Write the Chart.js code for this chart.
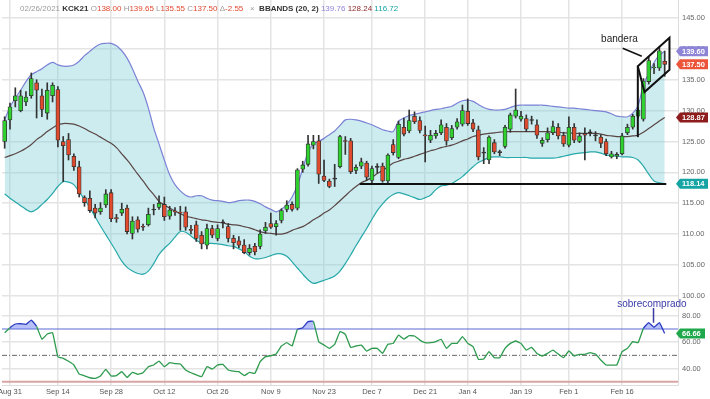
<!DOCTYPE html>
<html>
<head>
<meta charset="utf-8">
<script src="https://cdn.jsdelivr.net/npm/chart.js@4.4.1/dist/chart.umd.min.js"></script>
<style>
  html, body { margin: 0; padding: 0; background: #fff; }
  #wrap { position: relative; width: 710px; height: 399px; overflow: hidden; }
  #main { position: absolute; left: 0; top: 0; }
  #osc { position: absolute; left: 0; top: 297px; }
  #legend { position: absolute; left: 20px; top: 3px; font: 8px "Liberation Sans", Arial, sans-serif;
            line-height: 11px; white-space: nowrap; color: #9a9a9a; }
  #legend b { color: #333; }
  #legend .r { color: #e0482f; }
</style>
</head>
<body>
<div id="wrap">
  <canvas id="main" width="710" height="310"></canvas>
  <canvas id="osc" width="710" height="102"></canvas>
  <div id="legend">02/26/2021 <b>KCK21</b> O<span class="r">138.00</span> H<span class="r">139.65</span> L<span class="r">135.55</span> C<span class="r">137.50</span> Δ<span class="r">-2.55</span> &nbsp; × &nbsp;<b>BBANDS (20, 2)</b> <span style="color:#8d84d6">139.76</span> <span style="color:#8e2a2a">128.24</span> <span style="color:#15a3a3">116.72</span></div>
</div>
<script>
// trading days shown on the chart
const dates = [
  'Aug 28','Aug 31',
  'Sep 1','Sep 2','Sep 3','Sep 4','Sep 8','Sep 9','Sep 10','Sep 11','Sep 14','Sep 15','Sep 16','Sep 17','Sep 18',
  'Sep 21','Sep 22','Sep 23','Sep 24','Sep 25','Sep 28','Sep 29','Sep 30',
  'Oct 1','Oct 2','Oct 5','Oct 6','Oct 7','Oct 8','Oct 9','Oct 12','Oct 13','Oct 14','Oct 15','Oct 16',
  'Oct 19','Oct 20','Oct 21','Oct 22','Oct 23','Oct 26','Oct 27','Oct 28','Oct 29','Oct 30',
  'Nov 2','Nov 3','Nov 4','Nov 5','Nov 6','Nov 9','Nov 10','Nov 11','Nov 12','Nov 13',
  'Nov 16','Nov 17','Nov 18','Nov 19','Nov 20','Nov 23','Nov 24','Nov 25','Nov 27','Nov 30',
  'Dec 1','Dec 2','Dec 3','Dec 4','Dec 7','Dec 8','Dec 9','Dec 10','Dec 11','Dec 14','Dec 15','Dec 16','Dec 17','Dec 18',
  'Dec 21','Dec 22','Dec 23','Dec 24','Dec 28','Dec 29','Dec 30','Dec 31',
  'Jan 4','Jan 5','Jan 6','Jan 7','Jan 8','Jan 11','Jan 12','Jan 13','Jan 14','Jan 15',
  'Jan 19','Jan 20','Jan 21','Jan 22','Jan 25','Jan 26','Jan 27','Jan 28','Jan 29',
  'Feb 1','Feb 2','Feb 3','Feb 4','Feb 5','Feb 8','Feb 9','Feb 10','Feb 11','Feb 12',
  'Feb 16','Feb 17','Feb 18','Feb 19','Feb 22','Feb 23','Feb 24','Feb 25','Feb 26'
];
const tickDates = ['Aug 31','Sep 14','Sep 28','Oct 12','Oct 26','Nov 9','Nov 23','Dec 7','Dec 21','Jan 4','Jan 19','Feb 1','Feb 16'];

const open = [
  125.0,128.5,131.6,130.0,131.4,132.4,134.5,132.4,129.6,132.4,
  133.4,125.0,125.3,122.6,120.9,115.9,115.8,114.2,113.6,114.7,
  116.7,112.6,113.4,114.2,110.1,112.3,111.2,111.5,113.9,114.3,
  114.8,112.9,113.7,113.5,113.6,110.7,111.5,109.8,108.2,110.9,
  109.3,111.8,111.2,109.3,108.9,108.2,107.0,108.0,108.0,110.5,
  111.7,111.2,112.2,114.0,114.8,114.2,120.5,121.3,124.4,125.1,
  119.4,118.6,118.9,120.9,125.1,125.1,120.3,121.0,121.5,118.7,
  120.8,121.0,118.6,124.5,122.4,127.3,126.7,129.1,128.4,126.0,
  125.2,125.9,126.4,127.3,125.6,127.3,127.8,129.9,128.0,126.9,
  123.1,122.0,124.8,123.2,124.2,127.0,129.1,128.6,128.7,128.4,
  127.7,124.7,125.3,126.4,127.3,126.0,124.4,127.3,125.0,126.3,
  126.4,125.9,125.7,125.0,122.5,122.6,123.0,126.4,127.3,129.1,
  128.6,134.7,136.9,136.9,138.0
];
const high = [
  129.0,131.2,133.7,133.3,133.1,136.1,135.0,133.5,134.5,134.5,
  133.9,125.8,126.3,123.0,121.8,116.2,117.0,114.8,115.1,117.2,
  117.2,113.2,115.0,114.7,112.8,112.8,111.6,114.2,114.8,116.2,
  116.0,114.5,114.3,114.5,114.4,111.4,112.1,110.4,111.6,111.4,
  111.5,112.3,111.7,109.8,109.6,109.1,108.3,108.5,110.7,111.9,
  113.4,112.2,114.1,115.4,115.2,120.6,121.8,126.0,126.0,126.0,
  122.0,118.9,121.3,126.0,125.8,125.5,121.2,122.3,121.8,121.0,
  121.4,121.5,123.0,125.3,128.3,128.8,130.1,129.8,129.0,127.5,
  126.8,126.8,128.5,127.9,127.6,128.7,130.9,131.9,128.6,127.5,
  124.0,125.9,125.3,123.6,127.6,129.6,133.5,129.9,129.3,129.1,
  128.5,125.6,127.2,128.3,127.9,126.5,129.0,127.9,126.4,127.2,
  126.9,126.6,126.1,125.4,123.4,123.2,126.3,127.8,129.4,130.5,
  135.2,138.7,137.6,140.3,139.65
];
const low = [
  123.9,127.0,130.6,129.8,130.8,132.0,128.8,129.0,128.6,131.4,
  124.1,118.5,122.0,120.3,116.0,114.5,113.5,112.6,113.2,114.3,
  112.0,111.9,113.0,110.0,109.2,110.3,110.6,111.3,113.1,114.0,
  112.2,112.4,113.0,110.6,110.6,110.0,108.8,107.6,107.6,109.4,
  108.9,111.0,108.7,107.6,107.8,106.8,106.6,106.6,107.6,110.1,
  110.9,109.8,111.8,113.6,113.7,113.9,120.0,121.0,123.8,118.2,
  118.5,117.5,117.7,120.7,122.9,119.8,119.8,120.6,118.7,118.3,
  119.9,118.4,118.3,122.8,122.2,125.9,126.4,127.9,126.4,121.7,
  124.8,125.5,126.1,124.4,125.3,127.0,127.5,127.6,126.6,122.0,
  121.4,121.4,123.0,122.7,123.9,126.5,128.8,128.3,126.6,127.8,
  125.5,124.2,124.9,126.1,125.4,124.2,124.1,124.8,124.8,122.0,
  125.9,125.1,124.0,122.7,122.3,122.2,122.8,126.1,127.0,128.8,
  128.3,134.3,136.0,136.5,135.55
];
const close = [
  128.4,130.6,132.4,132.4,132.2,135.2,133.3,130.2,133.3,134.1,
  125.2,124.3,122.8,120.9,116.5,115.1,113.8,113.4,114.2,116.5,
  112.5,112.5,114.0,110.4,112.1,110.8,111.1,113.2,113.9,115.0,
  112.8,113.9,113.6,113.4,111.1,110.6,109.3,108.4,110.9,109.8,
  110.9,111.8,109.3,108.6,108.2,107.0,107.7,107.1,110.0,111.1,
  111.1,111.7,113.8,114.7,114.0,120.4,121.2,124.6,125.0,119.7,
  118.7,117.7,118.9,125.8,125.0,120.1,120.8,121.7,119.2,120.6,
  120.8,118.6,122.8,123.2,127.8,126.2,128.4,128.2,126.8,125.9,
  126.0,126.3,127.7,125.1,127.1,128.2,130.0,127.9,127.0,122.5,
  123.1,125.7,123.3,123.2,127.3,129.3,130.1,129.1,127.0,128.4,
  126.0,125.2,126.4,127.4,125.9,124.6,127.3,125.2,125.9,126.0,
  126.4,125.9,124.7,123.0,123.0,122.9,125.9,127.3,129.1,130.1,
  134.8,138.1,137.0,139.7,137.5
];

// Bollinger bands (20, 2)
const bbUpper = [
  128.5,130.6,132.0,133.3,134.7,135.8,136.3,136.8,137.4,137.8,
  137.4,137.2,137.2,137.4,138.0,138.9,139.6,140.3,140.8,140.9,
  140.9,140.5,139.7,138.5,136.8,134.8,133.0,130.4,127.2,124.6,
  122.0,119.6,118.0,117.0,116.3,116.0,116.2,116.2,115.8,115.5,
  115.4,115.3,115.1,115.2,115.4,115.5,115.5,115.3,114.9,114.4,
  114.0,113.6,114.0,114.8,116.0,117.9,120.6,123.2,124.6,125.0,
  125.5,126.1,126.7,127.6,128.5,128.6,128.5,128.3,128.0,127.7,
  127.3,126.9,126.7,126.6,128.3,128.8,129.2,129.4,129.6,129.8,
  130.0,130.2,130.3,130.5,130.7,131.2,131.6,131.7,131.5,131.0,
  130.5,130.2,130.1,130.1,130.2,130.5,130.8,130.9,130.9,130.9,
  130.9,130.9,130.8,130.7,130.6,130.5,130.4,130.4,130.3,130.2,
  130.1,130.0,129.9,129.8,129.5,129.1,129.0,129.0,129.6,130.8,
  134.2,136.0,137.8,139.0,139.6
];
const bbMiddle = [
  122.4,122.7,123.0,123.4,123.9,124.5,125.3,125.9,126.6,127.2,
  127.7,127.9,127.9,127.8,127.5,127.1,126.6,126.2,125.7,125.2,
  124.7,124.0,123.0,122.0,120.9,119.7,118.6,117.4,116.4,115.3,
  114.7,114.2,113.7,113.3,112.9,112.7,112.5,112.3,112.2,112.0,
  111.9,111.8,111.6,111.5,111.4,111.2,111.0,110.7,110.4,110.2,
  110.1,110.0,110.0,110.2,110.6,110.9,111.2,111.7,112.3,112.8,
  113.4,113.9,114.6,115.4,116.2,117.0,117.7,118.3,118.7,119.2,
  119.8,120.3,120.9,121.5,121.8,122.1,122.3,122.6,122.9,123.2,
  123.5,123.7,124.0,124.2,124.4,124.7,125.1,125.4,125.8,126.0,
  126.2,126.3,126.4,126.5,126.6,126.6,126.6,126.6,126.6,126.6,
  126.6,126.6,126.6,126.5,126.5,126.4,126.4,126.3,126.3,126.3,
  126.3,126.3,126.2,126.0,125.9,125.8,125.8,125.8,125.9,126.0,
  126.5,127.1,127.7,128.3,128.9
];
const bbLower = [
  116.5,115.8,115.2,114.6,114.0,113.6,114.0,114.8,115.6,116.6,
  117.7,118.5,118.4,118.0,116.8,115.6,114.3,112.8,111.3,109.9,
  108.5,107.1,105.6,104.6,104.0,103.6,103.5,104.0,105.2,106.7,
  107.7,108.5,109.5,110.4,110.3,109.7,109.0,108.6,108.5,108.5,
  108.4,108.3,108.1,108.0,107.6,107.2,106.4,106.0,106.0,106.2,
  106.5,106.8,106.8,106.4,105.5,104.5,103.5,102.6,102.0,102.2,
  102.5,102.8,103.2,104.0,105.2,106.6,108.1,109.5,110.9,112.4,
  113.8,114.9,115.8,116.4,116.7,116.5,116.2,115.9,115.6,115.9,
  116.3,117.2,117.8,117.9,118.2,118.7,119.3,120.1,120.9,121.6,
  122.0,122.4,122.5,122.5,122.4,122.4,122.4,122.4,122.4,122.3,
  122.3,122.3,122.3,122.3,122.4,122.6,122.8,123.0,123.1,123.2,
  123.3,123.3,123.1,122.8,122.7,122.6,122.5,122.5,122.4,122.0,
  121.0,119.7,118.6,118.3,118.1
];

// oscillator in the lower panel
const rsi = [
  67.2,71.0,73.8,74.0,73.5,76.8,72.0,62.2,66.2,67.2,
  49.0,47.7,45.5,42.7,35.8,34.5,33.0,32.5,34.3,39.4,
  34.3,34.6,37.6,33.3,37.1,35.6,36.8,41.4,42.7,45.7,
  41.4,44.4,43.8,43.4,38.9,36.8,35.2,33.8,41.4,39.6,
  42.7,43.2,38.9,38.0,37.6,34.6,37.1,36.3,45.2,49.0,
  49.7,51.0,57.1,59.6,57.1,69.7,71.0,75.6,75.8,60.4,
  57.8,55.3,58.4,68.0,66.0,56.1,57.1,57.8,53.3,55.3,
  55.3,51.5,58.4,59.1,65.4,62.4,64.9,64.7,61.6,59.6,
  59.6,60.4,62.2,55.3,59.1,59.1,64.2,59.1,56.6,47.0,
  47.2,52.8,48.2,48.2,55.3,59.1,60.9,59.1,54.0,56.1,
  51.5,49.5,51.5,54.0,51.0,48.2,53.3,49.5,50.8,50.8,
  52.0,51.0,46.5,42.7,42.6,42.7,52.8,55.3,60.4,59.6,
  70.5,74.8,71.3,74.8,66.66
];

const priceTicks = [100, 105, 110, 115, 120, 125, 130, 135, 140, 145];
const rsiTicks = [40, 60, 80];
const rsiLevels = { high: 70, mid: 50, low: 30 };

// last-value tags on the axes
const priceTags = [
  { value: 139.60, color: '#8d84d6' },
  { value: 137.50, color: '#ec553a' },
  { value: 128.87, color: '#8e1c1c' },
  { value: 118.14, color: '#15a3a3' }
];
const rsiTag = { value: 66.66, color: '#1fa84b' };

// hand drawn annotations (index, price)
const supportLine = { price: 118.1, from: 66.7, to: 124.3 };
const flagPole = [[118.95, 125.7], [118.95, 137.2]];
const flagBox = [[118.95, 137.2], [124.9, 141.8], [124.9, 136.6], [120.2, 133.0]];
const flagNote = { text: 'bandera', at: [115.5, 141.6], line: [[116.1, 140.1], [119.7, 138.8]] };
const rsiNote = { text: 'sobrecomprado', at: [121.6, 89], line: [[121.9, 86], [121.9, 74.8]] };

const idx = dates.map((d, i) => i);
const tickIdx = tickDates.map(d => dates.indexOf(d));
const gridColor = '#e4e4e4';
const FONT = '"Liberation Sans", Arial, sans-serif';
Chart.defaults.font.family = FONT;
Chart.defaults.font.size = 7.5;

function drawTag(ctx, left, right, y, color, text) {
  const h = 10;
  ctx.fillStyle = color;
  ctx.beginPath();
  ctx.moveTo(left, y);
  ctx.lineTo(left + 4, y - h / 2);
  ctx.lineTo(right, y - h / 2);
  ctx.lineTo(right, y + h / 2);
  ctx.lineTo(left + 4, y + h / 2);
  ctx.closePath();
  ctx.fill();
  ctx.fillStyle = '#fff';
  ctx.font = 'bold 7.5px ' + FONT;
  ctx.textAlign = 'left';
  ctx.textBaseline = 'middle';
  ctx.fillText(text, left + 6, y + 0.5);
}

function pathThrough(ctx, x, y, pts, closed) {
  ctx.beginPath();
  pts.forEach((p, k) => {
    const px = x.getPixelForValue(p[0]), py = y.getPixelForValue(p[1]);
    if (k === 0) ctx.moveTo(px, py); else ctx.lineTo(px, py);
  });
  if (closed) ctx.closePath();
  ctx.stroke();
}

const priceMarks = {
  id: 'priceMarks',
  afterDatasetsDraw(chart) {
    const { ctx, scales: { x, y } } = chart;
    ctx.save();
    ctx.strokeStyle = '#111';
    ctx.lineWidth = 2;
    pathThrough(ctx, x, y, [[supportLine.from, supportLine.price], [supportLine.to, supportLine.price]]);
    pathThrough(ctx, x, y, flagPole);
    pathThrough(ctx, x, y, flagBox, true);
    ctx.lineWidth = 1.5;
    pathThrough(ctx, x, y, flagNote.line);
    ctx.fillStyle = '#222';
    ctx.font = '10px ' + FONT;
    ctx.textAlign = 'center';
    ctx.textBaseline = 'middle';
    ctx.fillText(flagNote.text, x.getPixelForValue(flagNote.at[0]), y.getPixelForValue(flagNote.at[1]));
    ctx.restore();
  },
  afterDraw(chart) {
    const { ctx, chartArea, scales: { y } } = chart;
    ctx.save();
    priceTags.forEach(t => drawTag(ctx, chartArea.right - 2, chart.width - 2, y.getPixelForValue(t.value), t.color, t.value.toFixed(2)));
    ctx.restore();
  }
};

const rsiMarks = {
  id: 'rsiMarks',
  beforeDatasetsDraw(chart) {
    const { ctx, chartArea: a, scales: { y } } = chart;
    const hline = (v, color, w, dash) => {
      const py = y.getPixelForValue(v);
      ctx.strokeStyle = color; ctx.lineWidth = w; ctx.setLineDash(dash || []);
      ctx.beginPath(); ctx.moveTo(a.left, py); ctx.lineTo(a.right, py); ctx.stroke();
    };
    ctx.save();
    hline(rsiLevels.low, '#d9a4a4', 2);
    hline(rsiLevels.mid, '#666', 1, [5, 2, 1, 2]);
    hline(rsiLevels.high, '#5b6bd6', 1.2);
    ctx.restore();
  },
  afterDraw(chart) {
    const { ctx, chartArea, scales: { x, y } } = chart;
    ctx.save();
    ctx.strokeStyle = '#3a3aa6';
    ctx.lineWidth = 1.5;
    pathThrough(ctx, x, y, rsiNote.line);
    ctx.fillStyle = '#3a3aa6';
    ctx.font = '10px ' + FONT;
    ctx.textAlign = 'center';
    ctx.textBaseline = 'middle';
    ctx.fillText(rsiNote.text, x.getPixelForValue(rsiNote.at[0]), y.getPixelForValue(rsiNote.at[1]));
    drawTag(ctx, chartArea.right - 2, chart.width - 5, y.getPixelForValue(rsiTag.value), rsiTag.color, rsiTag.value.toFixed(2));
    ctx.restore();
  }
};

const xAxis = (showLabels) => ({
  type: 'linear', min: -0.5, max: dates.length + 1.5, offset: false,
  grid: { color: gridColor, lineWidth: 1.5, offset: false, drawTicks: false },
  border: { display: showLabels, color: '#dcdcdc' },
  ticks: { display: showLabels, color: '#555', padding: 2, maxRotation: 0, autoSkip: false, callback: v => dates[v] },
  afterBuildTicks: s => { s.ticks = tickIdx.map(v => ({ value: v })); },
  afterFit: s => { s.height = showLabels ? 14 : 0; s.paddingLeft = 0; s.paddingRight = 0; }
});

const yAxis = (min, max, ticks) => ({
  position: 'right', min, max,
  grid: { color: gridColor, lineWidth: 1.5, drawTicks: false },
  border: { display: true, color: '#dcdcdc' },
  ticks: { color: '#666', padding: 4, callback: v => v.toFixed(2) },
  afterBuildTicks: s => { s.ticks = ticks.map(v => ({ value: v })); },
  afterFit: s => { s.width = 32; s.paddingTop = 0; s.paddingBottom = 0; }
});

const bandLine = (data, color, extra) => Object.assign({
  type: 'line', data: idx.map(i => ({ x: i, y: data[i] })), borderColor: color, borderWidth: 1.2,
  pointRadius: 0, tension: 0.3, fill: false
}, extra);

new Chart(document.getElementById('main'), {
  type: 'bar',
  data: {
    datasets: [
      bandLine(bbUpper, '#7c82d6', { fill: '+2', backgroundColor: 'rgba(120,205,212,0.38)', order: 6 }),
      bandLine(bbMiddle, '#5a4545', { order: 5 }),
      bandLine(bbLower, '#27a8a9', { order: 5 }),
      {
        data: idx.map(i => ({ x: i, y: [low[i], high[i]] })),
        backgroundColor: '#333', barThickness: 1, grouped: false, order: 2
      },
      {
        data: idx.map(i => ({ x: i, y: [open[i], close[i]] })),
        backgroundColor: idx.map(i => close[i] > open[i] ? '#2fd12f' : close[i] < open[i] ? '#e14b2d' : '#333'),
        borderColor: '#333', borderWidth: 0.8, borderSkipped: false,
        barThickness: 4, minBarLength: 1, grouped: false, order: 1
      }
    ]
  },
  options: {
    responsive: false, animation: false, events: [],
    layout: { padding: { left: 2, right: 0, top: 0, bottom: 13 } },
    plugins: { legend: { display: false }, tooltip: { enabled: false } },
    scales: { x: xAxis(false), y: yAxis(99.8, 147.92, priceTicks) }
  },
  plugins: [priceMarks]
});

new Chart(document.getElementById('osc'), {
  type: 'line',
  data: {
    datasets: [{
      data: idx.map(i => ({ x: i, y: rsi[i] })),
      borderColor: '#2e9b4f', borderWidth: 1.3, pointRadius: 0, tension: 0.1,
      fill: { target: { value: rsiLevels.high }, above: 'rgba(95,115,240,0.45)', below: 'rgba(0,0,0,0)' },
      segment: { borderColor: c => (c.p0.parsed.y + c.p1.parsed.y) / 2 > rsiLevels.high ? '#2b3cc0' : '#2e9b4f' }
    }]
  },
  options: {
    responsive: false, animation: false, events: [],
    layout: { padding: { left: 2, right: 0, top: 0, bottom: 0 } },
    plugins: { legend: { display: false }, tooltip: { enabled: false } },
    scales: { x: xAxis(true), y: yAxis(27.5, 94.3, rsiTicks) }
  },
  plugins: [rsiMarks]
});
</script>
</body>
</html>
